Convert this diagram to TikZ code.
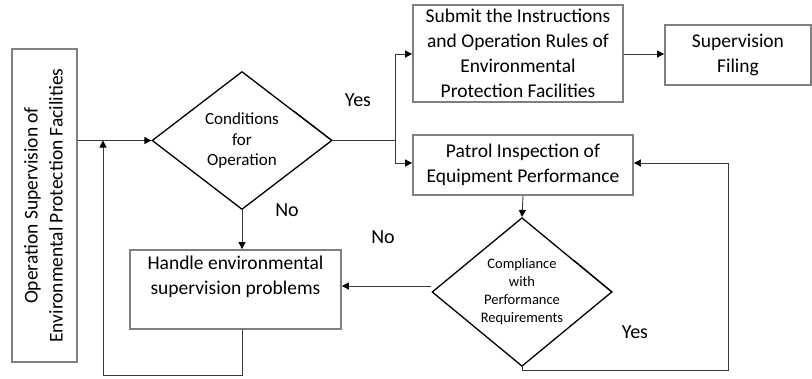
\documentclass[tikz,border=0pt]{standalone}
\usepackage{fontspec}
\setmainfont{Carlito}
\usetikzlibrary{shapes.geometric,arrows.meta,calc}

\definecolor{boxgray}{HTML}{7F7F7F}
\definecolor{linegray}{HTML}{3A3A3A}

\tikzset{
  procbox/.style={draw=boxgray, line width=1.8pt, fill=white, inner sep=0pt,
    align=center, font=\fontsize{19.5}{25}\selectfont},
  decision/.style={diamond, draw=black, line width=1.3pt, inner sep=0pt,
    minimum width=180pt, minimum height=138pt, align=center},
  conn/.style={draw=linegray, line width=0.9pt,
    -{Triangle[length=7pt,width=7pt,fill=black,color=black]}},
  plainline/.style={draw=linegray, line width=0.9pt},
  lbl/.style={font=\fontsize{20}{24}\selectfont, inner sep=0pt},
}

\begin{document}
\begin{tikzpicture}[x=1pt, y=-1pt]
\useasboundingbox (0,0) rectangle (812,378);

% process boxes
\node[procbox, minimum width=65pt, minimum height=313pt] (start) at (44.5,205.5) {};
\node[rotate=90, align=center, font=\fontsize{19.5}{25}\selectfont] (starttext) at ([xshift=-1pt]start.center)
  {Operation Supervision of\\Environmental Protection Facilities};
\node[procbox, minimum width=210pt, minimum height=97pt] (submit) at (518,53.5)
  {Submit the Instructions\\and Operation Rules of\\Environmental\\Protection Facilities};
\node[procbox, minimum width=146pt, minimum height=60pt] (filing) at (738,55)
  {Supervision\\Filing};
\node[procbox, minimum width=220pt, minimum height=60pt] (patrol) at (523,165)
  {Patrol Inspection of\\Equipment Performance};
\node[procbox, minimum width=211pt, minimum height=79pt] (handle) at (235.5,289.5) {};
\node[anchor=north, align=center, inner sep=0pt, font=\fontsize{19.5}{25}\selectfont] (handletext)
  at ([yshift=-7pt]handle.north) {Handle environmental\\supervision problems};

% decisions
\node[decision, font=\fontsize{17}{20.5}\selectfont] (cond) at (242,140.5)
  {Conditions\\for\\Operation};
\node[decision, font=\fontsize{14.5}{18}\selectfont] (comply) at (522,292)
  {Compliance\\with\\Performance\\Requirements};

% faint doubled stroke along the upper right edges
\draw[black, line width=0.5pt, shift={(1.3,-1.6)}]
  ($(cond.north)!0.57!(cond.east)$) -- (cond.east);
\draw[black, line width=0.5pt, shift={(1.3,-1.6)}]
  ($(comply.north)!0.57!(comply.east)$) -- (comply.east);

% split point and return corners
\coordinate (split) at (395,140.5);
\coordinate (loopleft) at (103,375);
\coordinate (loopright) at (728,370);

% connectors
\draw[conn] (start.east |- cond.west) -- (cond.west);
\draw[plainline] (cond.east) -- (split);
\draw[conn] (split) |- (submit.west |- 0,54);
\draw[conn] (split) |- (patrol.west |- 0,163);
\draw[conn] (submit.east |- 0,54) -- (filing.west |- 0,54);
\draw[conn] (patrol.south) -- (comply.north);
\draw[conn] (comply.south) |- (loopright) |- (patrol.east |- 0,163);
\draw[conn] (cond.south) -- (cond.south |- handle.north);
\draw[conn] (comply.west |- 0,286) -- (handle.east |- 0,286);
\draw[conn] (cond.south |- handle.south) |- (loopleft) -- (loopleft |- cond.west);

% branch labels
\node[lbl] (yes1) at (358,100) {Yes};
\node[lbl] (no1) at (287,210) {No};
\node[lbl] (no2) at (383,237) {No};
\node[lbl] (yes2) at (635,332) {Yes};
\end{tikzpicture}
\end{document}
